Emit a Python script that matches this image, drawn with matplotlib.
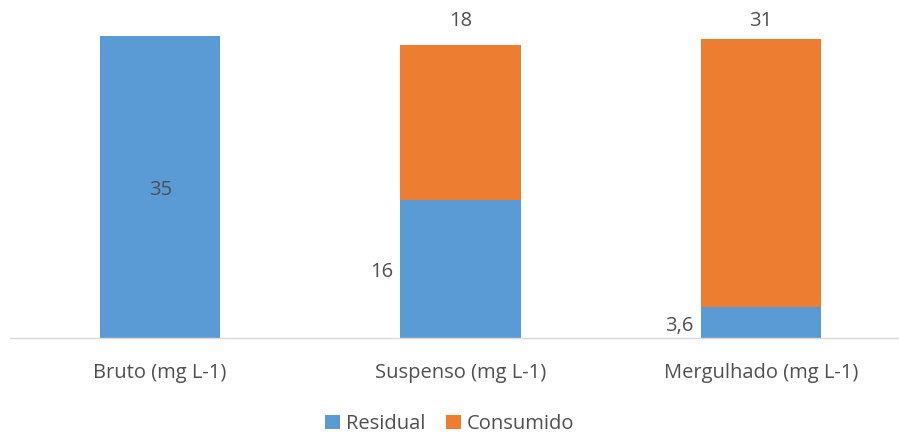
import matplotlib.pyplot as plt

plt.rcParams['font.family'] = ['Open Sans', 'DejaVu Sans']

categories = ["Bruto (mg L-1)", "Suspenso (mg L-1)", "Mergulhado (mg L-1)"]
residual = [35, 16, 3.6]
consumido = [0, 18, 31]
residual_labels = ["35", "16", "3,6"]
consumido_labels = ["", "18", "31"]

blue = "#5B9BD5"
orange = "#ED7D31"
grey = "#505050"
fs = 14.5

fig = plt.figure(figsize=(8.99, 4.34), dpi=100)
ax = fig.add_axes([10 / 899, 96 / 434, 889 / 899, 328 / 434])

x = list(range(len(categories)))
w = 0.4
ax.bar(x, residual, width=w, color=blue, label="Residual")
ax.bar(x, consumido, width=w, bottom=residual, color=orange, label="Consumido")

ax.set_xlim(-0.5, 2.46)
ax.set_ylim(0, 38)

# data labels, placed like in the original
ax.text(0, residual[0] / 2 - 0.35, residual_labels[0], ha='center', va='center',
        fontsize=fs, color=grey)
for i in (1, 2):
    ax.text(i - w / 2 - 0.025, residual[i] / 2 - 0.4, residual_labels[i], ha='right',
            va='center', fontsize=fs, color=grey)
    ax.text(i, 36.75, consumido_labels[i], ha='center', va='center',
            fontsize=fs, color=grey)

ax.set_xticks(x)
ax.set_xticklabels(categories, fontsize=fs, color=grey)
ax.tick_params(axis='x', length=0, pad=18)
ax.set_yticks([])
for s in ("top", "right", "left"):
    ax.spines[s].set_visible(False)
ax.spines["bottom"].set_color("#D9D9D9")
ax.spines["bottom"].set_linewidth(1)

fig.legend(loc='center', bbox_to_anchor=(0.5, 10 / 434), ncol=2, frameon=False,
           fontsize=fs, handlelength=0.75, handleheight=0.75, handletextpad=0.3,
           columnspacing=1.0, labelcolor=grey)

fig.savefig("out.png", dpi=100)
